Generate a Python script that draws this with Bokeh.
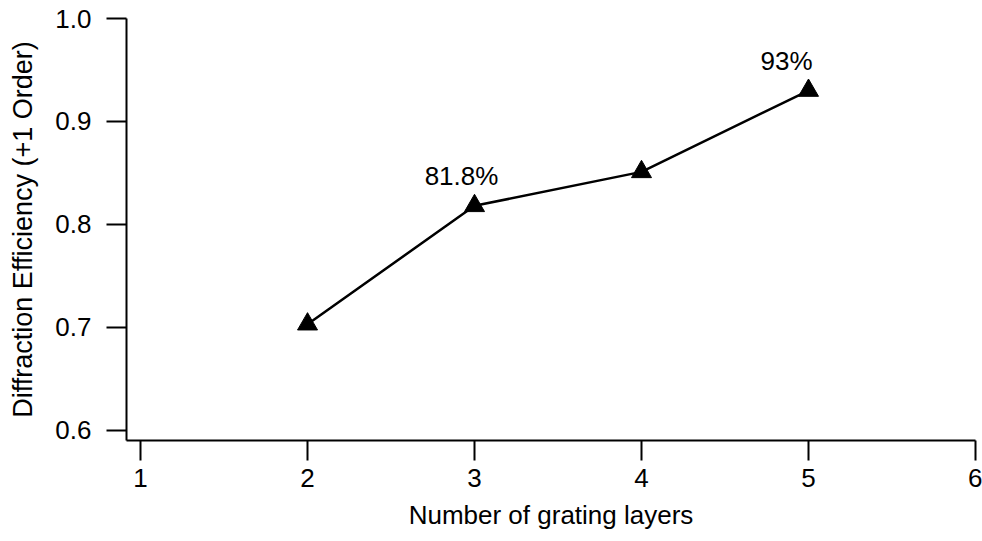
from bokeh.plotting import figure
from bokeh.models import Range1d, FixedTicker, PrintfTickFormatter, ColumnDataSource, LabelSet
from bokeh.core.properties import value
from bokeh.embed import file_html
from bokeh.resources import INLINE

# Diffraction efficiency (+1 order) versus number of grating layers
layers = [2, 3, 4, 5]
efficiency = [0.703, 0.818, 0.851, 0.93]

# Points that carry a percentage annotation
annotated_layers = [3, 5]
annotated_eff = [0.818, 0.93]
annotation_dx = [-13, -22]

x_ticks = [1, 2, 3, 4, 5, 6]
y_ticks = [0.6, 0.7, 0.8, 0.9, 1.0]

FONT = "Liberation Sans"

p = figure(
    width=982, height=541,
    x_range=Range1d(0.916, 6.0), y_range=Range1d(0.59, 1.0),
    output_backend="svg", toolbar_location=None,
    min_border_left=126, min_border_right=7,
    min_border_top=18, min_border_bottom=101,
)
p.outline_line_color = None
p.xgrid.visible = False
p.ygrid.visible = False
p.background_fill_color = "white"
p.border_fill_color = "white"

for ax in (p.xaxis[0], p.yaxis[0]):
    ax.axis_line_width = 2
    ax.axis_line_color = "black"
    ax.major_tick_line_width = 2
    ax.major_tick_line_color = "black"
    ax.major_tick_in = 0
    ax.major_tick_out = 20
    ax.minor_tick_line_color = None
    ax.major_label_text_font = FONT
    ax.major_label_text_font_size = "26px"
    ax.major_label_text_color = "black"
    ax.axis_label_text_font = FONT
    ax.axis_label_text_font_style = "normal"
    ax.axis_label_text_color = "black"

p.xaxis.axis_label_text_font_size = "26px"
p.yaxis.axis_label_text_font_size = "27px"
p.xaxis.ticker = FixedTicker(ticks=x_ticks)
p.yaxis.ticker = FixedTicker(ticks=y_ticks)
p.xaxis.formatter = PrintfTickFormatter(format="%d")
p.yaxis.formatter = PrintfTickFormatter(format="%.1f")
p.xaxis.axis_label = "Number of grating layers"
p.yaxis.axis_label = "Diffraction Efficiency (+1 Order)"
p.xaxis.major_label_standoff = 8
p.yaxis.major_label_standoff = 15
p.xaxis.axis_label_standoff = 10
p.yaxis.axis_label_standoff = 14

p.line(layers, efficiency, line_color="black", line_width=2.5)
p.scatter(layers, efficiency, marker="triangle", size=20,
          fill_color="black", line_color="black")

src = ColumnDataSource(dict(
    x=annotated_layers,
    y=annotated_eff,
    text=[f"{v * 100:g}%" for v in annotated_eff],
    dx=annotation_dx,
))
p.add_layout(LabelSet(
    x="x", y="y", text="text", source=src,
    x_offset="dx", y_offset=15,
    text_align="center", text_baseline="bottom",
    text_font=value(FONT), text_font_size="26px", text_color="black",
))

open("out.html", "w").write(file_html(p, INLINE))
